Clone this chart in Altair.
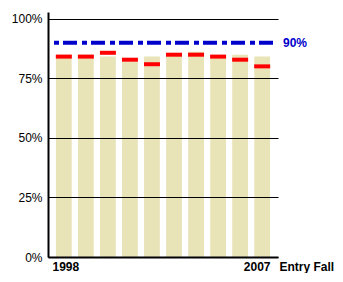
import altair as alt
import pandas as pd

years = ["1998", "1999", "2000", "2001", "2002", "2003", "2004", "2005", "2006", "2007"]
bar_values = [85.0, 85.0, 84.2, 82.1, 84.2, 85.0, 86.2, 84.2, 85.0, 84.2]
marker_values = [84.2, 84.2, 85.8, 82.9, 81.0, 85.0, 85.0, 84.2, 82.9, 80.1]
target = [90]
target_label = ["90%"]
y_ticks = [0, 25, 50, 75, 100]

df = pd.DataFrame({"year": years, "bar": bar_values, "marker": marker_values})
tdf = pd.DataFrame({"target": target, "label": target_label})

FONT = "Liberation Sans"

x_enc = alt.X(
    "year:O",
    scale=alt.Scale(paddingInner=0.284, paddingOuter=0.36),
    axis=alt.Axis(
        labelExpr="(datum.value == '1998' || datum.value == '2007') ? datum.value : ''",
        labelAngle=0,
        labelFont=FONT,
        labelFontSize=12,
        labelFontWeight="bold",
        labelColor="black",
        labelPadding=4,
        labelOffset={"condition": {"test": "datum.value == '2007'", "value": -5}, "value": 2},
        ticks=False,
        domainColor="black",
        domainWidth=2,
        title="Entry Fall",
        titleFont=FONT,
        titleFontSize=12,
        titleFontWeight="bold",
        titleColor="black",
        titleX=231,
        titleY=13,
        titleAlign="left",
        titleBaseline="alphabetic",
        titleAngle=0,
        zindex=1,
    ),
)

y_scale = alt.Scale(domain=[0, 102.94], nice=False, zero=True)
y_axis = alt.Axis(
    values=y_ticks,
    labelExpr="datum.value + '%'",
    labelFont=FONT,
    labelFontSize=12,
    labelColor="black",
    labelPadding=6,
    ticks=False,
    grid=True,
    gridColor="black",
    gridWidth=1,
    gridOpacity=1,
    domainColor="black",
    domainWidth=2,
    title=None,
    zindex=1,
)

bars = alt.Chart(df).mark_bar(color="#E9E3B8").encode(
    x=x_enc,
    y=alt.Y("bar:Q", scale=y_scale, axis=y_axis),
)

markers = alt.Chart(df).mark_tick(color="#FF0000", thickness=4, size=16, opacity=1).encode(
    x=alt.X("year:O"),
    y=alt.Y("marker:Q"),
)

rule = alt.Chart(tdf).mark_rule(
    color="#0000CC", strokeWidth=4, strokeDash=[5, 4, 14, 5], strokeDashOffset=23
).encode(
    y=alt.Y("target:Q"),
    x=alt.value(1),
    x2=alt.value(228),
)

label = alt.Chart(tdf).mark_text(
    color="#0000CC", font=FONT, fontSize=12, fontWeight="bold", align="left", baseline="middle"
).encode(
    y=alt.Y("target:Q"),
    x=alt.value(235),
    text="label:N",
)

chart = alt.layer(bars, markers, rule, label).properties(
    width=230,
    height=245,
    autosize=alt.AutoSizeParams(type="none"),
    padding={"left": 40, "top": 4, "right": 57, "bottom": 16},
    background="white",
).configure_view(stroke=None)

chart.save("out.html", embed_options={"renderer": "svg", "actions": False})
